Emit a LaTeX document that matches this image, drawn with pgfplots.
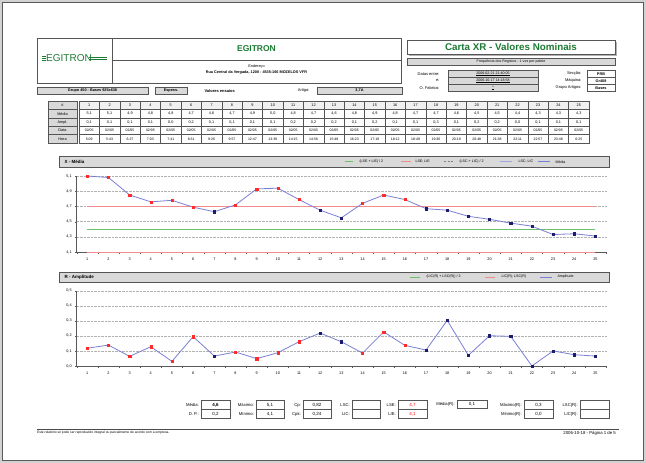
\documentclass[border=0pt]{standalone}
\usepackage{pgfplots}
\pgfplotsset{compat=1.18}
\usepackage{pgfplotstable}
\usepackage{fontspec}
\setmainfont{Liberation Sans}
\definecolor{egreen}{HTML}{1E7B34}
\definecolor{lblue}{HTML}{7B7FD4}
\definecolor{navy}{HTML}{1C1C70}
\definecolor{mred}{HTML}{FF2A2A}
\definecolor{lred}{HTML}{F28C8C}
\definecolor{lgreen}{HTML}{6CC06C}
\definecolor{hdr}{HTML}{D9D9D9}
\definecolor{bord}{HTML}{555555}
\newcommand\fs[1]{\fontsize{#1}{#1}\selectfont}

\pgfplotstableread{
x y r n
1 5.10 5.10 nan
2 5.08 5.08 nan
3 4.85 4.85 nan
4 4.76 4.76 nan
5 4.78 4.78 nan
6 4.69 4.69 nan
7 4.63 nan 4.63
8 4.72 4.72 nan
9 4.93 4.93 nan
10 4.94 4.94 nan
11 4.79 4.79 nan
12 4.65 nan 4.65
13 4.55 nan 4.55
14 4.74 4.74 nan
15 4.85 4.85 nan
16 4.79 4.79 nan
17 4.67 nan 4.67
18 4.65 nan 4.65
19 4.57 nan 4.57
20 4.53 nan 4.53
21 4.48 nan 4.48
22 4.44 nan 4.44
23 4.33 nan 4.33
24 4.34 nan 4.34
25 4.31 nan 4.31
}\xdata

\pgfplotstableread{
x y r n
1 0.118 0.118 nan
2 0.139 0.139 nan
3 0.064 0.064 nan
4 0.128 0.128 nan
5 0.031 0.031 nan
6 0.195 0.195 nan
7 0.066 nan 0.066
8 0.093 0.093 nan
9 0.049 0.049 nan
10 0.088 0.088 nan
11 0.161 0.161 nan
12 0.219 nan 0.219
13 0.161 nan 0.161
14 0.086 0.086 nan
15 0.226 0.226 nan
16 0.137 0.137 nan
17 0.106 nan 0.106
18 0.303 nan 0.303
19 0.071 nan 0.071
20 0.201 nan 0.201
21 0.197 nan 0.197
22 0.000 nan 0.000
23 0.100 nan 0.100
24 0.075 nan 0.075
25 0.066 nan 0.066
}\rdata

\pgfplotsset{
 spc/.style={scale only axis, width=529.3pt, xmin=0.5, xmax=25.5,
  axis x line=bottom, axis y line=left,
  axis line style={-, gray!70!black, line width=0.5pt},
  xtick={1,...,25}, major x tick style={draw=none},
  minor xtick={0.5,1.5,...,25.5}, minor x tick style={gray!70!black},
  minor tick length=1.5pt, major tick length=1.5pt, tick align=outside,
  major y tick style={gray!70!black},
  ymajorgrids, major grid style={densely dotted, gray!60, line width=0.4pt},
  ticklabel style={font=\fs{3.8}},
  /pgf/number format/assume math mode=true,
  yticklabel style={/pgf/number format/.cd, use comma, fixed, precision=1, fixed zerofill},
  xticklabel style={yshift=-1pt},
  clip=false},
 ln/.style={lblue, line width=0.8pt, mark=none},
 mr/.style={only marks, mark=square*, mark size=1.1pt, mred},
 mn/.style={only marks, mark=square*, mark size=1.1pt, navy},
}

\begin{document}
\begin{tikzpicture}
\begin{scope}[x=1pt,y=-1pt]
% page
\fill[gray!35] (0,0) rectangle (646,463);
\fill[white,draw=gray!70!black,line width=0.5pt] (2.5,2.5) rectangle (643,460);

% ---------- header left
\draw[bord,line width=0.6pt] (37,38) rectangle (401,83);
\draw[bord,line width=0.6pt] (112,38) -- (112,83);
\draw[bord,line width=0.6pt] (112,60) -- (401,60);
\node[font=\fs{8.5}\bfseries, text=egreen] at (256.5,49) {EGITRON};
\node[font=\fs{3.8}] at (256.5,66.8) {Endereço};
\node[font=\fs{3.8}\bfseries] at (256.5,73) {Rua Central da Vergada, 1200 - 4535-166 MOZELOS VFR};
% logo
\node[font=\fs{10}, text=egreen, anchor=west, inner sep=0pt] at (46,58.5) {EGITRON};
\draw[egreen,line width=0.6pt] (41.5,56.3)--(46,56.3) (41.5,58.3)--(46,58.3) (41.5,60.3)--(46,60.3);
\draw[egreen,line width=0.9pt] (89,57.2)--(106.5,57.2) (89,59.8)--(106.5,59.8);

% row 2
\draw[bord,fill=hdr,line width=0.5pt] (37,87) rectangle (148,94.5);
\node[font=\fs{3.8}\bfseries] at (92.5,90.8) {Grupo 450 - Bases 925x638};
\draw[bord,fill=hdr,line width=0.5pt] (155,87) rectangle (187,94.5);
\node[font=\fs{3.8}\bfseries] at (171,90.8) {Espess.};
\node[font=\fs{4}\bfseries, anchor=west] at (201,90.8) {Valores ensaios};
\node[font=\fs{4}, anchor=east] at (313,90.8) {Artigo:};
\draw[bord,fill=hdr,line width=0.5pt] (317,87) rectangle (402,94.5);
\node[font=\fs{3.8}\bfseries] at (359.5,90.8) {3,7A};

% ---------- header right
\fill[gray!60] (409,42) rectangle (617,56);
\draw[bord,fill=white,line width=0.7pt] (407,40) rectangle (615,54);
\node[font=\fs{9.8}\bfseries, text=egreen] at (511,47) {Carta XR - Valores Nominais};
\draw[bord,fill=hdr,line width=0.5pt] (407,58.5) rectangle (615,65.5);
\node[font=\fs{3.6}] at (511,62) {Frequência dos Registos - 1 vez por palete};

\foreach \yy/\lab/\val in {70/Datas entre:/2006-02-21 21:40:05, 77/e:/2006-10-17 14:18:58, 84/O. Fabrico:/*}{
  \draw[bord,fill=hdr,line width=0.5pt] (448,\yy) rectangle (538,\yy+7.3);
  \node[font=\fs{3.6}] at (493,\yy+3.8) {\underline{\val}};
  \node[font=\fs{4}, anchor=east] at (443,\yy+3.8) {\lab};
}
\foreach \yy/\lab/\val in {70/Secção:/PRB, 77/Máquina:/Gr408, 84/Grupo Artigos:/Bases}{
  \draw[bord,fill=white,line width=0.5pt] (587,\yy) rectangle (615,\yy+7.3);
  \node[font=\fs{3.8}\bfseries] at (601,\yy+3.8) {\val};
  \node[font=\fs{4}, anchor=east] at (585,\yy+3.8) {\lab};
}

% ---------- data table
\foreach \r/\lab in {0/\#,1/Média,2/Ampl.,3/Data,4/Hora}{
  \draw[bord,fill=hdr,line width=0.5pt] (48,101+8.4*\r) rectangle (77,109.4+8.4*\r);
  \node[font=\fs{3.8}] at (62.5,105.3+8.4*\r) {\lab};
}
\foreach \i in {1,...,25}{
  \draw[bord,fill=gray!12,line width=0.5pt] (79+20.4*\i-20.4,101) rectangle (79+20.4*\i,109.4);
  \node[font=\fs{3.8}] at (79+20.4*\i-10.2,105.3) {\i};
  \foreach \r in {1,...,4}{
    \draw[bord,line width=0.5pt] (79+20.4*\i-20.4,101+8.4*\r) rectangle (79+20.4*\i,109.4+8.4*\r);
  }
}
\foreach \v [count=\i] in {{5,1},{5,1},{4,9},{4,8},{4,8},{4,7},{4,6},{4,7},{4,9},{5,0},{4,8},{4,7},{4,6},{4,8},{4,9},{4,8},{4,7},{4,7},{4,6},{4,5},{4,5},{4,4},{4,3},{4,3},{4,3}}
  \node[font=\fs{3.8}] at (79+20.4*\i-10.2,113.7) {\v};
\foreach \v [count=\i] in {{0,1},{0,1},{0,1},{0,1},{0,0},{0,2},{0,1},{0,1},{0,1},{0,1},{0,2},{0,2},{0,2},{0,1},{0,2},{0,1},{0,1},{0,3},{0,1},{0,2},{0,2},{0,0},{0,1},{0,1},{0,1}}
  \node[font=\fs{3.8}] at (79+20.4*\i-10.2,122.1) {\v};
\foreach \i in {1,...,25}
  \node[font=\fs{3.5}] at (79+20.4*\i-10.2,130.5) {02/05};
\foreach \v [count=\i] in {5:09,5:43,6:27,7:03,7:41,8:31,9:26,9:57,12:47,13:39,14:15,14:56,15:48,16:23,17:19,18:12,18:49,19:36,20:19,20:48,21:38,22:11,22:57,23:48,0:25}
  \node[font=\fs{3.5}] at (79+20.4*\i-10.2,138.9) {\v};

% ---------- chart headers
\draw[bord,fill=hdr,line width=0.8pt] (59,156.5) rectangle (609,167);
\node[font=\fs{4.5}\bfseries, anchor=west] at (61,161.8) {X - Média};
\draw[lgreen,line width=0.7pt] (345,161.8)--(353,161.8);
\node[font=\fs{3.6}, anchor=west] at (356,161.8) {(LSE + LIE) / 2};
\draw[lred,line width=0.7pt] (401,161.8)--(411,161.8);
\node[font=\fs{3.6}, anchor=west] at (412,161.8) {LSE; LIE};
\draw[gray,line width=0.7pt,dash pattern=on 2pt off 1.5pt] (444,161.8)--(454,161.8);
\node[font=\fs{3.6}, anchor=west] at (456,161.8) {(LSC + LIC) / 2};
\draw[lblue!70,line width=0.7pt] (500,161.8)--(512,161.8);
\node[font=\fs{3.6}, anchor=west] at (515,161.8) {LSC; LIC};
\draw[lblue,line width=0.7pt] (538,161.8)--(550,161.8);
\node[font=\fs{3.6}, anchor=west] at (552,161.8) {Média};

\draw[bord,fill=hdr,line width=0.8pt] (59,272) rectangle (609,282);
\node[font=\fs{4.5}\bfseries, anchor=west] at (61,277) {R - Amplitude};
\draw[lgreen,line width=0.7pt] (410,277)--(420,277);
\node[font=\fs{3.6}, anchor=west] at (423,277) {(LIC(R) + LSC(R)) / 2};
\draw[lred,line width=0.7pt] (485,277)--(495,277);
\node[font=\fs{3.6}, anchor=west] at (498,277) {LIC(R); LSC(R)};
\draw[lblue,line width=0.7pt] (540,277)--(552,277);
\node[font=\fs{3.6}, anchor=west] at (554,277) {Amplitude};

% ---------- statistics
\foreach \xl/\xa/\xb/\la/\va/\lb/\vb/\col in {
  200/201/230/Média:/\textbf{4,6}/D. P.:/{0,2}/black,
  255/256/284/Máximo:/{5,1}/Mínimo:/{4,1}/black,
  302/303/331/Cp:/{0,82}/Cpk:/{0,24}/black,
  351/352/380/LSC:/{}/LIC:/{}/black,
  397/398/427/LSE:/{4,7}/LIE:/{4,1}/red,
  523/524/553/Máximo(R):/{0,3}/Mínimo(R):/{0,0}/black,
  579/580/609/LSC(R):/{}/LIC(R):/{}/black}{
  \draw[bord,line width=0.6pt] (\xa,400.5) rectangle (\xb,409.5);
  \draw[bord,line width=0.6pt] (\xa,409.5) rectangle (\xb,418.5);
  \node[font=\fs{4.2}, anchor=east, inner sep=1pt] at (\xl,405) {\la};
  \node[font=\fs{4.2}, anchor=east, inner sep=1pt] at (\xl,414) {\lb};
  \node[font=\fs{4.5}, text=\col] at ({(\xa+\xb)/2},405) {\va};
  \node[font=\fs{4.5}, text=\col] at ({(\xa+\xb)/2},414) {\vb};
}
\draw[bord,line width=0.6pt] (457,400.5) rectangle (487,408.5);
\node[font=\fs{4.2}, anchor=east, inner sep=1pt] at (456,404.5) {Média(R):};
\node[font=\fs{4.5}] at (472,404.5) {0,1};

% footer
\draw[gray!60!black,line width=0.8pt] (37,429.5) -- (619,429.5);
\node[font=\fs{3.3}, anchor=west, inner sep=0pt] at (37,433) {Este relatório só pode ser reproduzido integral ou parcialmente de acordo com a empresa.};
\node[font=\fs{4.3}, anchor=east, inner sep=0pt] at (616,433.5) {2006-10-18 - Página 1 de 5};

\coordinate (A1) at (76.7,252);
\coordinate (A2) at (76.7,366);
\end{scope}

\begin{axis}[spc, at={(A1)}, anchor=south west, height=76pt,
  ymin=4.1, ymax=5.1, ytick={4.1,4.3,4.5,4.7,4.9,5.1}]
\addplot[lgreen, line width=0.7pt] coordinates {(1,4.4) (25,4.4)};
\addplot[lred, line width=0.8pt] coordinates {(1,4.7) (25,4.7)};
\addplot[lred, line width=0.8pt] coordinates {(1,4.1) (25,4.1)};
\addplot[ln] table[x=x,y=y]{\xdata};
\addplot[mr] table[x=x,y=r]{\xdata};
\addplot[mn] table[x=x,y=n]{\xdata};
\end{axis}

\begin{axis}[spc, at={(A2)}, anchor=south west, height=75.3pt,
  ymin=0, ymax=0.5, ytick={0,0.1,0.2,0.3,0.4,0.5}]
\addplot[ln] table[x=x,y=y]{\rdata};
\addplot[mr] table[x=x,y=r]{\rdata};
\addplot[mn] table[x=x,y=n]{\rdata};
\end{axis}
\end{tikzpicture}
\end{document}
